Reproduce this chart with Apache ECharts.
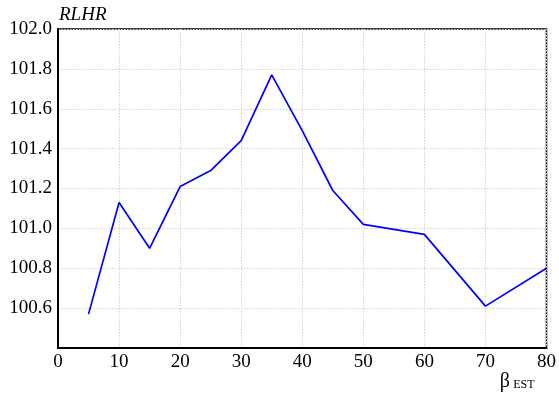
<!DOCTYPE html>
<html><head><meta charset="utf-8">
<script src="https://cdn.jsdelivr.net/npm/echarts@6/dist/echarts.min.js"></script>
<style>html,body{margin:0;padding:0;background:#fff}#c{width:559px;height:399px}</style>
</head><body><div id="c"></div>
<script>
const betaEst = [5, 10, 15, 20, 25, 30, 35, 40, 45, 50, 60, 70, 80];
const rlhr = [100.57, 101.13, 100.90, 101.21, 101.29, 101.44, 101.77, 101.49, 101.19, 101.02, 100.97, 100.61, 100.80];
const xTicks = [0, 10, 20, 30, 40, 50, 60, 70, 80];
const yTicks = [100.4, 100.6, 100.8, 101.0, 101.2, 101.4, 101.6, 101.8, 102.0];

const font = '"Liberation Serif", "DejaVu Serif", serif';
const chart = echarts.init(document.getElementById('c'), null, {renderer: 'canvas'});
chart.setOption({
  animation: false,
  backgroundColor: '#fff',
  grid: {left: 58, right: 9, top: 29, bottom: 51, show: true, borderColor: '#000', borderWidth: 1.5, backgroundColor: 'transparent'},
  xAxis: {
    type: 'value', min: xTicks[0], max: xTicks[xTicks.length - 1], interval: 10,
    name: '{b|β} {s|EST}', nameLocation: 'end', nameGap: -12,
    nameTextStyle: {align: 'right', verticalAlign: 'top', padding: [24, 0, 0, 0],
      rich: {b: {fontFamily: font, fontSize: 20, color: '#000'}, s: {fontFamily: font, fontSize: 12, color: '#000', padding: [6, 0, 0, 0]}}},
    axisLine: {show: true, lineStyle: {color: '#000', width: 2}},
    axisTick: {show: false},
    axisLabel: {color: '#000', fontFamily: font, fontSize: 19, margin: 5},
    splitLine: {show: true, lineStyle: {color: '#d2d2d2', type: [1.5, 1.5], width: 1}}
  },
  yAxis: {
    type: 'value', min: yTicks[0], max: yTicks[yTicks.length - 1], interval: 0.2,
    name: 'RLHR', nameLocation: 'end', nameGap: 5,
    nameTextStyle: {align: 'left', verticalAlign: 'bottom', fontFamily: font, fontStyle: 'italic', fontSize: 19, color: '#000', padding: [0, 0, 0, 1]},
    axisLine: {show: true, lineStyle: {color: '#000', width: 2}},
    axisTick: {show: false},
    axisLabel: {color: '#000', fontFamily: font, fontSize: 19, margin: 6,
      formatter: v => (Math.abs(v - yTicks[0]) < 1e-9 ? '' : v.toFixed(1))},
    splitLine: {show: true, lineStyle: {color: '#d2d2d2', type: [1.5, 1.5], width: 1}}
  },
  series: [{
    type: 'line',
    data: betaEst.map((x, i) => [x, rlhr[i]]),
    showSymbol: false,
    lineStyle: {color: '#0000ff', width: 1.7},
    itemStyle: {color: '#0000ff'}
  }]
});
</script></body></html>
